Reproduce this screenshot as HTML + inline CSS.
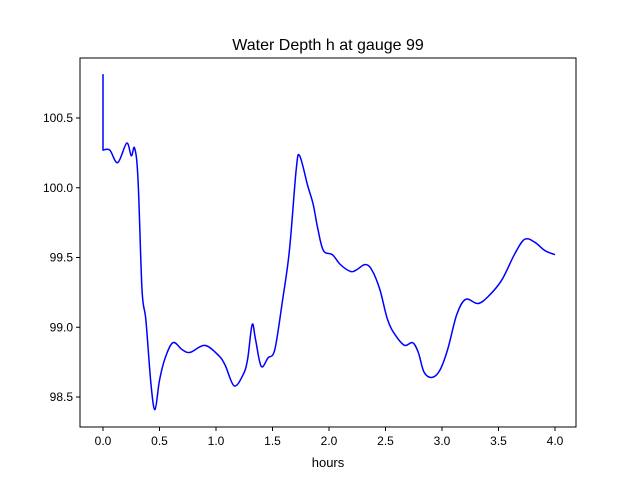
<!DOCTYPE html>
<html><head><meta charset="utf-8"><style>
body{margin:0;background:#fff;}
svg{display:block;font-family:"Liberation Sans","DejaVu Sans",sans-serif;}
</style></head><body>
<svg id="chart" width="640" height="480" viewBox="0 0 640 480">
<rect width="640" height="480" fill="#fff"/>
<text x="328" y="50" font-size="16" text-anchor="middle">Water Depth h at gauge 99</text>
<g id="plot"></g>
<text x="328" y="467" font-size="13" text-anchor="middle">hours</text>
</svg>
<script>
const times=[0,0,0.06,0.13,0.21,0.25,0.28,0.31,0.345,0.38,0.425,0.46,0.50,0.55,0.62,0.70,0.77,0.90,1.02,1.08,1.16,1.24,1.28,1.32,1.35,1.40,1.46,1.52,1.59,1.65,1.71,1.74,1.81,1.86,1.90,1.95,2.03,2.10,2.19,2.24,2.32,2.38,2.45,2.52,2.59,2.67,2.74,2.79,2.84,2.91,2.98,3.05,3.13,3.21,3.32,3.42,3.53,3.64,3.73,3.82,3.91,4.0];
const depths=[100.815,100.27,100.27,100.18,100.32,100.23,100.285,100.06,99.27,99.05,98.59,98.41,98.62,98.78,98.89,98.84,98.82,98.87,98.80,98.73,98.58,98.66,98.77,99.02,98.91,98.72,98.78,98.84,99.20,99.55,100.13,100.23,100.02,99.88,99.71,99.55,99.52,99.45,99.40,99.41,99.45,99.41,99.27,99.05,98.94,98.87,98.89,98.82,98.68,98.64,98.69,98.84,99.09,99.20,99.17,99.23,99.34,99.52,99.63,99.61,99.55,99.52];
const xTicks=[0,0.5,1,1.5,2,2.5,3,3.5,4];
const yTicks=[98.5,99.0,99.5,100.0,100.5];
const L=80,R=576,T=58,B=427;
const X=v=>103+v*113;
const Y=v=>118-(v-100.5)*139.5;
const NS="http://www.w3.org/2000/svg";
const g=document.getElementById('plot');
function mk(tag,attrs){const e=document.createElementNS(NS,tag);for(const k in attrs)e.setAttribute(k,attrs[k]);g.appendChild(e);return e;}
const pts=times.map((t,i)=>[X(t),Y(depths[i])]);
let d='M'+pts[0][0].toFixed(1)+','+pts[0][1].toFixed(1)+' L'+pts[1][0].toFixed(1)+','+pts[1][1].toFixed(1);
for(let i=1;i<pts.length-1;i++){
  const p0=pts[Math.max(1,i-1)],p1=pts[i],p2=pts[i+1],p3=pts[Math.min(pts.length-1,i+2)];
  const c1=[p1[0]+(p2[0]-p0[0])/6,p1[1]+(p2[1]-p0[1])/6];
  const c2=[p2[0]-(p3[0]-p1[0])/6,p2[1]-(p3[1]-p1[1])/6];
  d+=' C'+c1[0].toFixed(1)+','+c1[1].toFixed(1)+' '+c2[0].toFixed(1)+','+c2[1].toFixed(1)+' '+p2[0].toFixed(1)+','+p2[1].toFixed(1);
}
const line=mk('path',{d:d,fill:'none',stroke:'#0000ff','stroke-width':1.5,'stroke-linejoin':'round'});


const frame=mk('rect',{x:L,y:T,width:R-L,height:B-T,fill:'none',stroke:'#000','stroke-width':1});


xTicks.forEach(v=>{
  const tk=mk('line',{x1:X(v),x2:X(v),y1:B,y2:B+4,stroke:'#000'});
  
  
  const tx=mk('text',{x:X(v),y:B+18,'font-size':12,'text-anchor':'middle'});
  tx.textContent=v.toFixed(1);
  
  
});
yTicks.forEach(v=>{
  const tk=mk('line',{x1:L-4,x2:L,y1:Y(v),y2:Y(v),stroke:'#000'});
  
  
  const tx=mk('text',{x:L-7,y:Y(v)+4,'font-size':12,'text-anchor':'end'});
  tx.textContent=v.toFixed(1);
  
  
});
</script>
</body></html>
